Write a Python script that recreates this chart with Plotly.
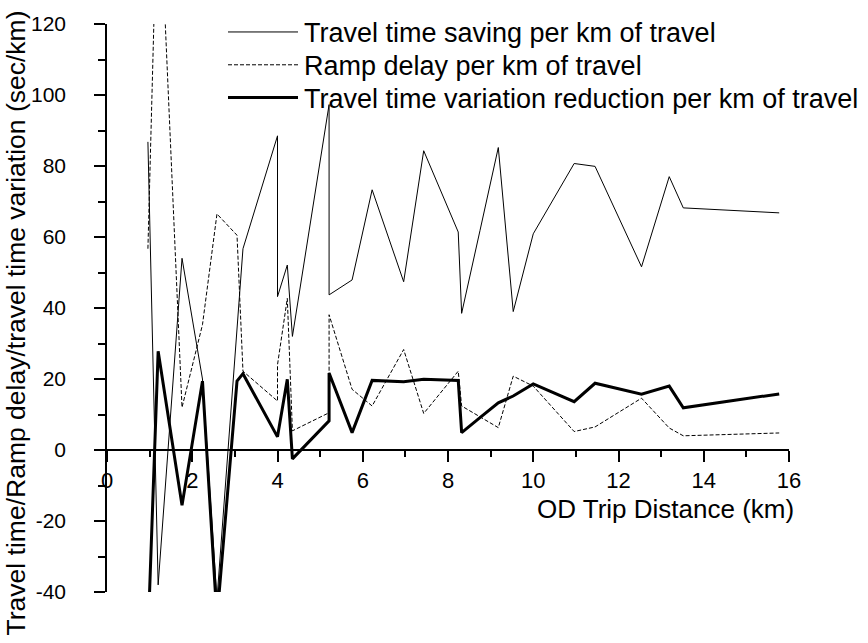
import plotly.graph_objects as go

# ---- data ----
distance_km = [0.96, 1.20, 1.76, 2.24, 2.58, 3.05, 3.19, 4.00, 4.00, 4.23, 4.35,
               5.21, 5.21, 5.75, 6.22, 6.96, 7.43, 8.24, 8.32, 8.75, 9.18, 9.53,
               10.00, 10.96, 11.45, 12.54, 13.19, 13.52, 15.77]
travel_time_saving = [86.8, -38.0, 54.0, 20.0, -42.0, 36.0, 56.7, 88.5, 43.2, 52.1, 32.0,
                      97.3, 43.7, 47.9, 73.3, 47.4, 84.3, 61.4, 38.5, 61.8, 85.2, 39.0,
                      60.9, 80.7, 79.9, 51.6, 77.0, 68.2, 66.8]
ramp_delay = [56.7, 166.0, 12.0, 35.3, 66.5, 60.5, 22.2, 13.8, 24.0, 42.7, 5.4,
              10.5, 38.1, 17.1, 12.4, 28.3, 10.3, 22.2, 12.4, 9.3, 6.3, 20.8,
              18.0, 5.2, 6.5, 14.6, 6.2, 4.0, 4.8]
tt_variation_reduction = [-53.0, 27.8, -15.6, 19.4, -47.5, 19.4, 21.5, 3.7, 3.7, 19.9, -2.5,
                          8.2, 21.7, 4.9, 19.6, 19.2, 19.9, 19.6, 4.9, 9.1, 13.3, 15.2,
                          18.6, 13.6, 18.8, 15.7, 18.0, 11.9, 15.8]

series_names = ["Travel time saving per km of travel",
                "Ramp delay per km of travel",
                "Travel time variation reduction per km of travel"]

x_tickvals = [0, 2, 4, 6, 8, 10, 12, 14, 16]
x_minor = [1, 3, 5, 7, 9, 11, 13, 15]
y_tickvals = [-40, -20, 0, 20, 40, 60, 80, 100, 120]
y_ticktext = ["-40", "-20", "0", "20", "40", "60", "80", "100", "120"]
y_minor = [-30, -10, 10, 30, 50, 70, 90, 110]

x_title = "OD Trip Distance (km)"
y_title = "Travel time/Ramp delay/travel time variation (sec/km)"

# ---- layout geometry (pixels) ----
W, H = 868, 643
ML, MR, MT, MB = 107, 79, 21, 51
PW, PH = W - ML - MR, H - MT - MB


def px(xp):
    return (xp - ML) / PW


def py(yp):
    return (H - MB - yp) / PH


FONT = "Arial, 'Liberation Sans', sans-serif"

styles = [dict(color="black", width=1, dash="solid"),
          dict(color="black", width=1, dash="4px,2px"),
          dict(color="black", width=3, dash="solid")]

fig = go.Figure()
for name, ys, st in zip(series_names,
                        [travel_time_saving, ramp_delay, tt_variation_reduction],
                        styles):
    fig.add_trace(go.Scatter(x=distance_km, y=ys, mode="lines", name=name,
                             line=st, showlegend=False))

# manual legend
legend_rows = [30, 63, 96]
shapes = []
annotations = []
for name, st, yrow in zip(series_names, styles, legend_rows):
    shapes.append(dict(type="line", xref="paper", yref="paper",
                       x0=px(228), x1=px(298), y0=py(yrow - 1), y1=py(yrow - 1),
                       line=st))
    annotations.append(dict(xref="paper", yref="paper", x=px(302), y=py(yrow),
                            text=name, showarrow=False, xanchor="left",
                            yanchor="middle",
                            font=dict(family=FONT, size=27, color="black")))

annotations.append(dict(xref="paper", yref="paper", x=px(665), y=py(509),
                        text=x_title, showarrow=False, xanchor="center",
                        yanchor="middle",
                        font=dict(family=FONT, size=26, color="black")))
annotations.append(dict(xref="paper", yref="paper", x=px(16), y=py(322),
                        text=y_title, showarrow=False, textangle=-90,
                        xanchor="center", yanchor="middle",
                        font=dict(family=FONT, size=26.5, color="black")))

fig.update_layout(
    width=W, height=H,
    margin=dict(l=ML, r=MR, t=MT, b=MB, pad=0),
    paper_bgcolor="white", plot_bgcolor="white",
    font=dict(family=FONT, size=18, color="black"),
    shapes=shapes, annotations=annotations,
    xaxis=dict(range=[0, 16], anchor="free", position=0.25,
               showline=True, linecolor="black", linewidth=1.5,
               showgrid=False, zeroline=False,
               tickmode="array", tickvals=x_tickvals,
               ticks="outside", ticklen=11, tickwidth=1.5, tickcolor="black",
               ticklabelstandoff=0,
               tickfont=dict(family=FONT, size=22, color="black"),
               minor=dict(tickmode="array", tickvals=x_minor, ticks="outside",
                          ticklen=6, tickwidth=1.5, tickcolor="black")),
    yaxis=dict(range=[-40, 120], showline=True, linecolor="black", linewidth=1.5,
               showgrid=False, zeroline=False,
               tickmode="array", tickvals=y_tickvals, ticktext=y_ticktext,
               ticks="outside", ticklen=11, tickwidth=1.5, tickcolor="black",
               ticklabelstandoff=24,
               tickfont=dict(family=FONT, size=21, color="black"),
               minor=dict(tickmode="array", tickvals=y_minor, ticks="outside",
                          ticklen=7, tickwidth=1.5, tickcolor="black")),
)

fig.write_html("out.html")
